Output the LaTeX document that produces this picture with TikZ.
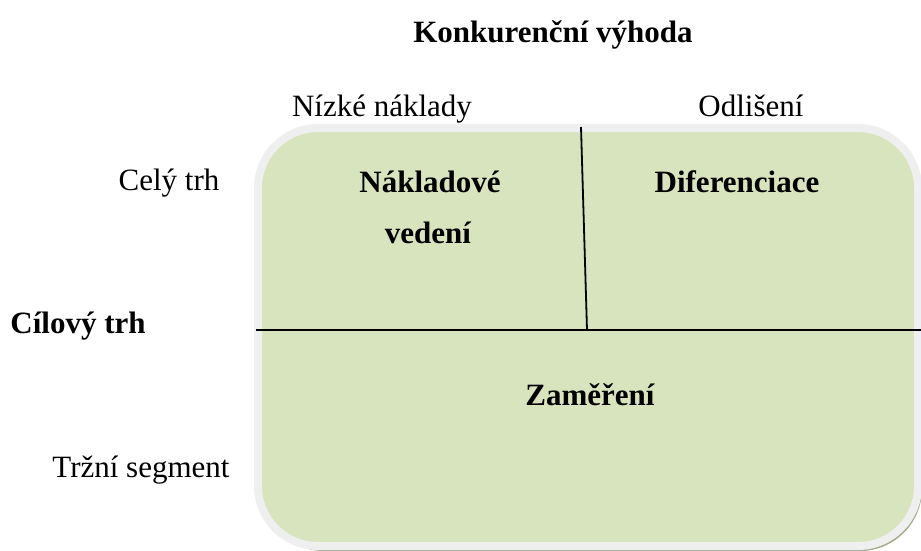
\documentclass[tikz,border=0pt]{standalone}
\usepackage{fontspec}
\setmainfont{Liberation Serif}
\definecolor{panelgreen}{HTML}{D7E4BD}
\definecolor{panelrim}{HTML}{EFEFEF}
\definecolor{panelshadow}{HTML}{A2AD89}
\begin{document}
\begin{tikzpicture}[x=1pt,y=-1pt,
  lbl/.style={anchor=base,inner sep=0pt,font=\fontsize{31}{37}\selectfont},
  blbl/.style={lbl,font=\fontsize{31}{37}\selectfont\bfseries},
  divider/.style={line width=1.8pt,black}]
\useasboundingbox (0,0) rectangle (921,550);
% drop shadow and rounded panel
\fill[panelshadow,rounded corners=62pt] (262,133) rectangle (922,551);
\draw[panelrim,line width=8pt,fill=panelgreen,rounded corners=60pt] (258,128) rectangle (918,546);
% quadrant dividers
\coordinate (hl) at (256,330);
\coordinate (hr) at (921,330);
\coordinate (vt) at (581,127);
\coordinate (vb) at (587,330);
\draw[divider] (hl) -- (hr);
\draw[divider] (vt) -- (vb);
% headings
\node[blbl] (title) at (553,42) {Konkurenční výhoda};
\node[lbl] (low) at (382,116) {Nízké náklady};
\node[lbl] (diff) at (751,116) {Odlišení};
\node[lbl] (whole) at (169,190) {Celý trh};
\node[blbl] (target) at (78,333) {Cílový trh};
\node[lbl] (segment) at (141,477) {Tržní segment};
% quadrant labels
\node[blbl] (cost1) at (430,192) {Nákladové};
\node[blbl] (cost2) at (428,243) {vedení};
\node[blbl] (differ) at (737,192) {Diferenciace};
\node[blbl] (focus) at (590,405) {Zaměření};
\end{tikzpicture}
\end{document}
